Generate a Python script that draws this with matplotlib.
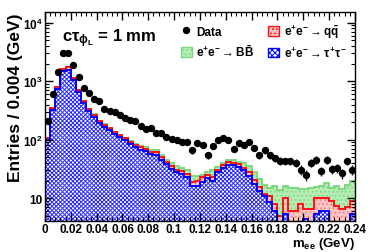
import numpy as np
import matplotlib
matplotlib.use("Agg")
import matplotlib.pyplot as plt
from matplotlib.ticker import MultipleLocator, LogLocator, NullFormatter
from matplotlib.patches import Patch
from matplotlib.lines import Line2D

# m_ee bins of 0.004 GeV from 0 to 0.24
bin_edges = np.round(np.arange(0, 0.2401, 0.004), 3)

# stacked backgrounds, bottom to top: tau tau, q qbar, B Bbar
tautau = [100, 320, 740, 1480, 1580, 1060, 650, 420, 310, 248,
          190, 165, 145, 125, 110, 98, 84, 76, 68, 64,
          58, 56, 46, 38, 32, 28, 26, 23, 16, 16,
          19, 22, 19.4, 28, 33, 37.4, 36.4, 34, 30, 24,
          17.7, 13.6, 10.9, 8.6, 6, 3, 5.5, 2, 2, 2,
          4.5, 2, 5.5, 6, 6, 2, 2, 2, 2, 5.5]
qqbar = [6, 25, 60, 140, 140, 80, 65, 35, 28, 20,
         17, 15, 12, 10, 9, 8, 7, 6, 6, 6,
         5, 5, 5, 4, 4, 3, 3, 3, 3, 4,
         4, 3, 3.6, 3, 3.4, 4.1, 3.9, 4, 3, 4,
         2.5, 1.9, 1.0, 2.3, 2, 2, 4.5, 4, 4, 6,
         2, 4.5, 4.5, 4, 4, 7, 5.5, 4.5, 5, 3.5]
bbbar = [1, 3, 5, 10, 10, 8, 5, 3, 3, 3,
         3, 3, 3, 3, 3, 3, 3, 3, 4, 4,
         4, 5, 4, 4, 4, 4, 4, 4, 5, 4,
         2, 3, 7, 3, 3.6, 4.5, 5.7, 4.5, 7, 8,
         7.8, 6, 4.7, 4.1, 8.5, 9, 6, 9, 9, 6.3,
         8, 8.5, 5.5, 6, 8.5, 6, 8.5, 7.8, 10, 10.5]

# data counts per bin
data = [206, 600, 1420, 2990, 2990, 1920, 1200, 775, 630, 500,
        455, 340, 310, 297, 265, 235, 217, 207, 171, 150,
        156, 132, 130, 112, 105, 98, 93, 92, 66, 89,
        80, 54, 78, 101, 108, 101, 70, 89, 82, 91,
        72, 54, 66, 54, 49, 44, 43, 43, 40, 31,
        25, 40, 46, 29, 46, 32, 33, 27, 43, 31]

plt.rcParams["font.family"] = ["Liberation Sans", "DejaVu Sans"]
plt.rcParams["font.weight"] = "bold"
plt.rcParams["mathtext.fontset"] = "custom"
plt.rcParams["mathtext.rm"] = "Liberation Sans:bold"
plt.rcParams["mathtext.it"] = "Liberation Sans:bold"
plt.rcParams["mathtext.bf"] = "Liberation Sans:bold"
plt.rcParams["hatch.linewidth"] = 0.7

tautau = np.array(tautau, dtype=float)
red_top = tautau + np.array(qqbar, dtype=float)
green_top = red_top + np.array(bbbar, dtype=float)
data = np.array(data, dtype=float)
centers = 0.5 * (bin_edges[:-1] + bin_edges[1:])

fig = plt.figure(figsize=(3.74, 2.53), dpi=100)
ax = fig.add_axes([0.1203, 0.1225, 0.8287, 0.8261])
ax.set_yscale("log")

floor = 1.0
ax.stairs(green_top, bin_edges, baseline=red_top, fill=True, facecolor="#b4ecb4",
          edgecolor="#79d879", hatch="....", lw=0)
ax.stairs(red_top, bin_edges, baseline=tautau, fill=True, facecolor="#ffc4c4",
          edgecolor="#f08080", hatch="....", lw=0)
ax.stairs(tautau, bin_edges, baseline=floor, fill=True, facecolor="white",
          edgecolor="#2a2aff", hatch="x" * 8, lw=0)
ax.stairs(green_top, bin_edges, baseline=None, color="#7ed87e", lw=1.4)
ax.stairs(red_top, bin_edges, baseline=None, color="#ff1010", lw=1.4)
ax.stairs(tautau, bin_edges, baseline=None, color="#0000ff", lw=1.4)

ax.errorbar(centers, data, yerr=np.sqrt(data), fmt="o", color="black",
            ecolor="#10104a", elinewidth=1.0, ms=4.3, capsize=0, zorder=5)

ax.set_xlim(0, 0.24)
ax.set_ylim(4.1, 15200)

ax.xaxis.set_minor_locator(MultipleLocator(0.004))
ax.yaxis.set_minor_locator(LogLocator(base=10, subs=np.arange(2, 10), numticks=20))
ax.yaxis.set_minor_formatter(NullFormatter())
ax.set_xticks([0, 0.02, 0.04, 0.06, 0.08, 0.1, 0.12, 0.14, 0.16, 0.18, 0.2, 0.22, 0.24])
ax.set_xticklabels(["0", "0.02", "0.04", "0.06", "0.08", "0.1", "0.12", "0.14",
                    "0.16", "0.18", "0.2", "0.22", "0.24"])
ax.set_yticks([10, 100, 1000, 10000])
ax.set_yticklabels(["10", "$10^{2}$", "$10^{3}$", "$10^{4}$"])
ax.tick_params(which="both", direction="in", top=True, right=True, labelsize=8.5)
ax.tick_params(which="major", length=6, width=1)
ax.tick_params(which="minor", length=3, width=0.8)
ax.tick_params(axis="x", pad=1.5)
ax.tick_params(axis="y", pad=2)
for s in ax.spines.values():
    s.set_linewidth(1.0)

ax.set_ylabel("Entries / 0.004 (GeV)", fontsize=12.5, fontweight="bold", loc="top", labelpad=0)
ax.set_xlabel(r"m$_{\mathbf{ee}}$ (GeV)", fontsize=9.5, fontweight="bold", loc="right")
ax.xaxis.set_label_coords(1.0, -0.066)

ax.text(0.055, 0.93, r"c$\tau_{\phi_{L}}$ = 1 mm", transform=ax.transAxes,
        fontsize=12, fontweight="bold", va="top", ha="left")

handles = [
    Line2D([], [], marker="o", ls="none", color="black", ms=4.3),
    Patch(facecolor="#b4ecb4", edgecolor="#79d879", hatch="...."),
    Patch(facecolor="#ffc4c4", edgecolor="#ff1010", hatch="...."),
    Patch(facecolor="white", edgecolor="#0000ff", hatch="x" * 6),
]
labels = ["Data", r"e$^{+}$e$^{-}$$\rightarrow$B$\bar{\mathrm{B}}$",
          r"e$^{+}$e$^{-}$$\rightarrow$q$\bar{\mathrm{q}}$",
          r"e$^{+}$e$^{-}$$\rightarrow$$\tau^{+}\tau^{-}$"]
ax.legend(handles, labels, ncol=2, loc="upper right", bbox_to_anchor=(1.0, 0.99),
          frameon=False, fontsize=8.5, handlelength=0.9, handleheight=0.9,
          handletextpad=0.4, columnspacing=1.2, labelspacing=0.45, borderaxespad=0.3)

fig.savefig("out.png", dpi=100)
